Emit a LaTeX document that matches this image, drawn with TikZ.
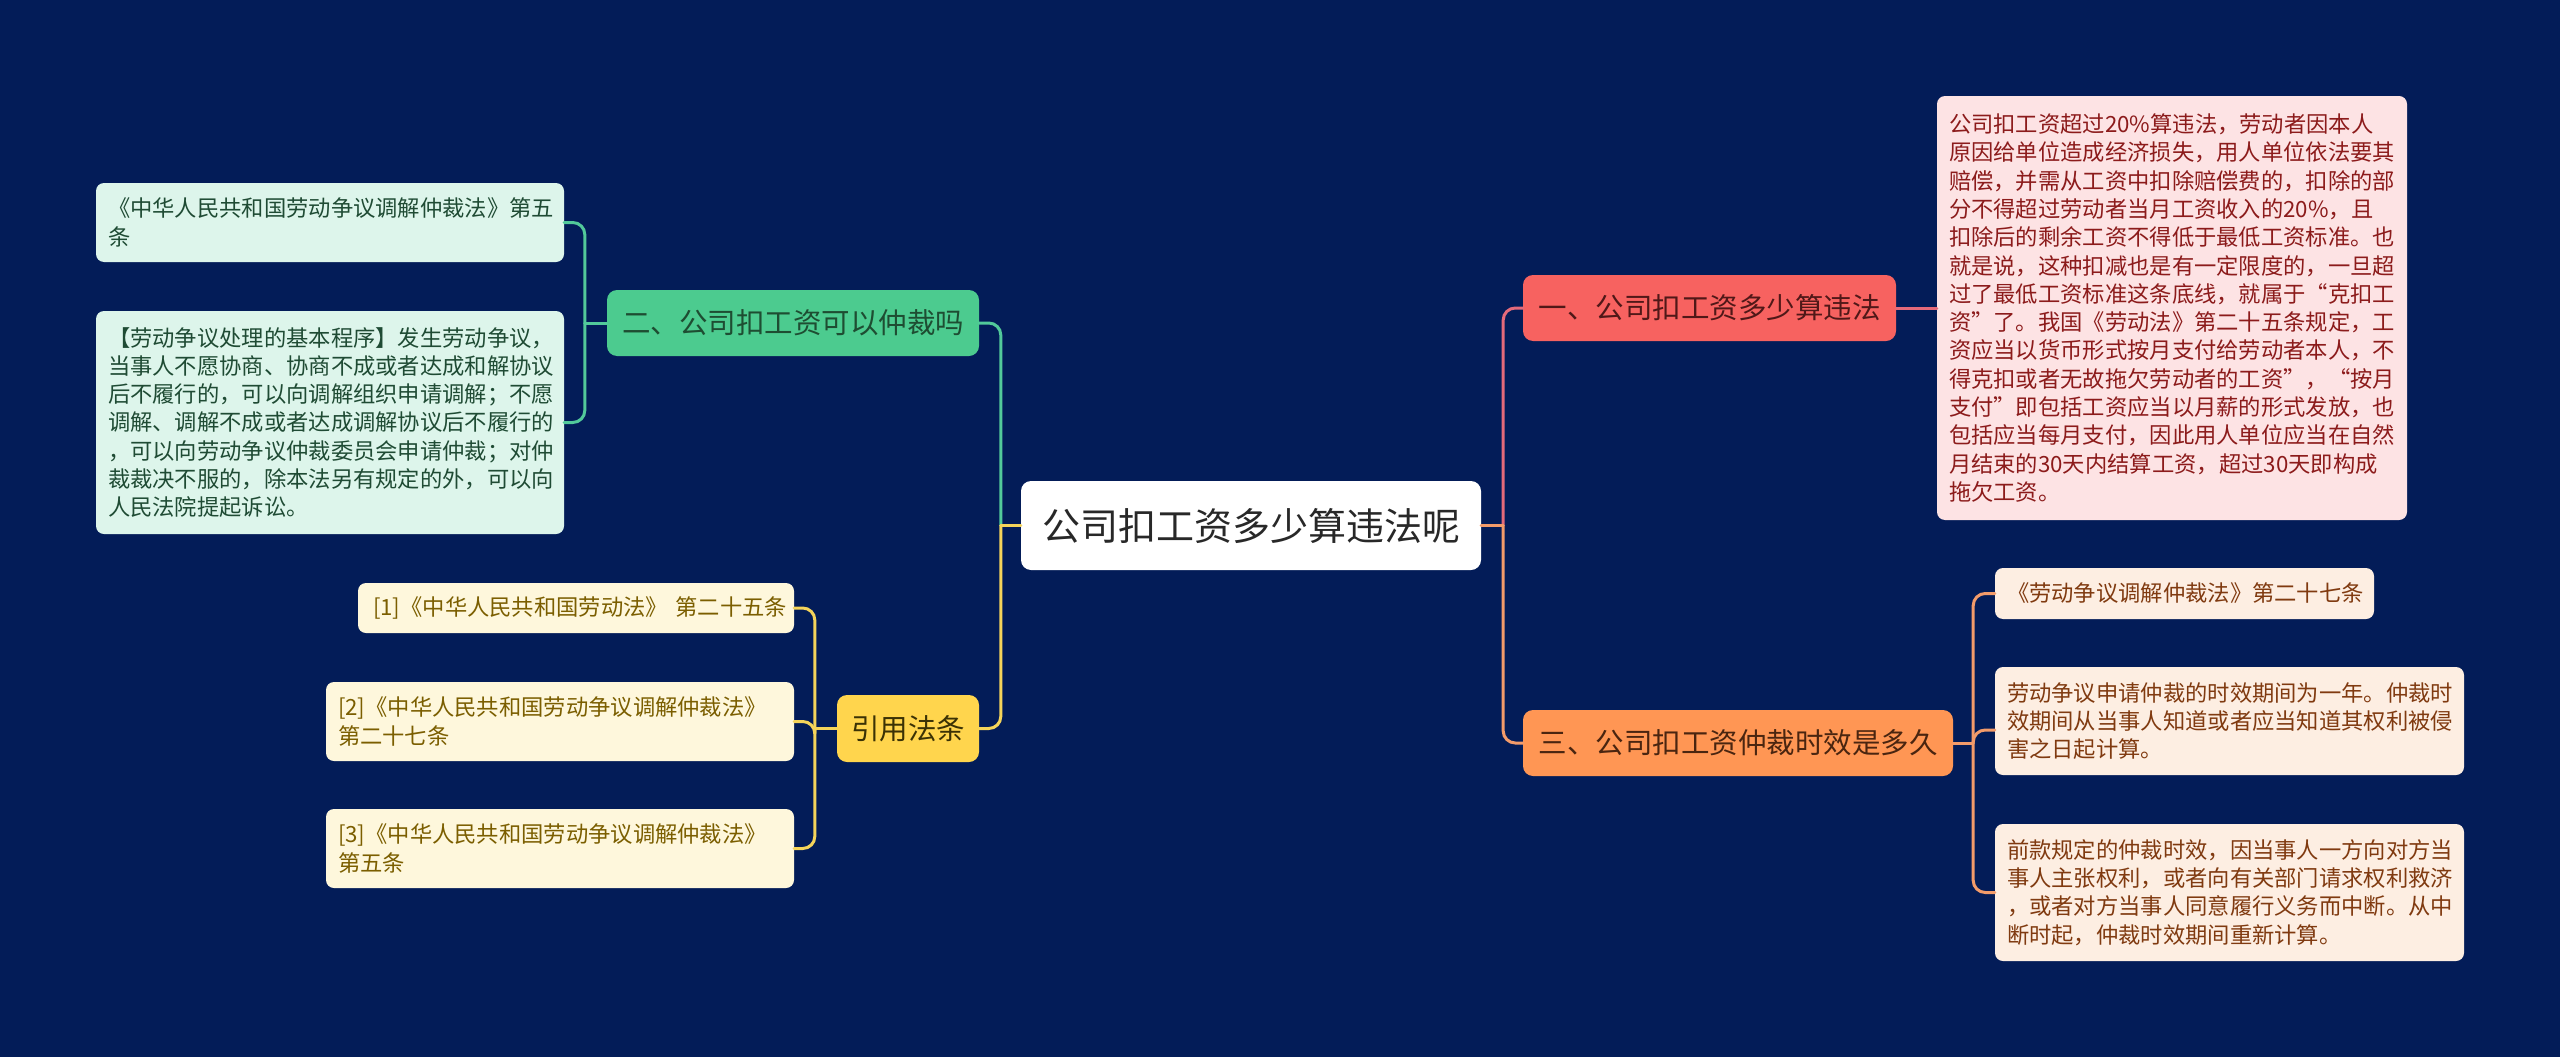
\documentclass[tikz,border=0pt]{standalone}
\usepackage{fontspec}
\setmainfont{Noto Sans CJK SC}
\definecolor{bgc}{RGB}{3,28,88}
\definecolor{rootfill}{RGB}{255,255,255}
\definecolor{roottext}{RGB}{40,40,40}
\definecolor{redfill}{RGB}{247,98,96}
\definecolor{redtext}{RGB}{80,24,24}
\definecolor{redleaf}{RGB}{253,227,228}
\definecolor{redleaftext}{RGB}{140,27,27}
\definecolor{redline}{RGB}{228,106,122}
\definecolor{orfill}{RGB}{255,150,84}
\definecolor{ortext}{RGB}{74,37,16}
\definecolor{orleaf}{RGB}{253,238,226}
\definecolor{orleaftext}{RGB}{128,58,16}
\definecolor{orline}{RGB}{243,155,106}
\definecolor{grfill}{RGB}{76,203,143}
\definecolor{grtext}{RGB}{30,77,50}
\definecolor{grleaf}{RGB}{221,245,235}
\definecolor{grleaftext}{RGB}{31,75,52}
\definecolor{grline}{RGB}{82,201,154}
\definecolor{yefill}{RGB}{255,213,77}
\definecolor{yetext}{RGB}{59,50,5}
\definecolor{yeleaf}{RGB}{254,247,220}
\definecolor{yeleaftext}{RGB}{123,94,0}
\definecolor{yeline}{RGB}{245,212,90}
\begin{document}
\begin{tikzpicture}[x=1pt,y=-1pt,
  rootbox/.style={fill=rootfill,text=roottext,rounded corners=10pt,inner sep=0pt,
    minimum width=460pt,minimum height=89pt,font=\fontsize{38}{44}\selectfont},
  lvlone/.style={rounded corners=10pt,inner sep=0pt,minimum height=66pt,
    font=\fontsize{28.5}{34}\selectfont},
  leafbox/.style={rounded corners=8pt,inner xsep=12pt,inner ysep=0pt,align=left,
    font=\fontsize{22.3}{28.3}\selectfont},
  conn/.style={line width=3pt,line cap=round},
  roundbend/.style={rounded corners=12pt}]
\useasboundingbox[fill=bgc] (0,0) rectangle (2560,1057);

% root
\node[rootbox] (root) at (1251,525.5) {公司扣工资多少算违法呢};

% level one
\node[lvlone,fill=redfill,text=redtext,minimum width=373pt] (b1) at (1709.5,308) {一、公司扣工资多少算违法};
\node[lvlone,fill=orfill,text=ortext,minimum width=430pt] (b3) at (1738,743) {三、公司扣工资仲裁时效是多久};
\node[lvlone,fill=grfill,text=grtext,minimum width=372pt] (b2) at (793,323) {二、公司扣工资可以仲裁吗};
\node[lvlone,fill=yefill,text=yetext,minimum width=142pt,minimum height=67pt] (b4) at (908,728.5) {引用法条};

% leaves right
\node[leafbox,fill=redleaf,text=redleaftext,text width=446pt,minimum height=424pt] (r1) at (2172,308) {公司扣工资超过20\%算违法，劳动者因本人\\
原因给单位造成经济损失，用人单位依法要其\\
赔偿，并需从工资中扣除赔偿费的，扣除的部\\
分不得超过劳动者当月工资收入的20\%，且\\
扣除后的剩余工资不得低于最低工资标准。也\\
就是说，这种扣减也是有一定限度的，一旦超\\
过了最低工资标准这条底线，就属于“克扣工\\
资”了。我国《劳动法》第二十五条规定，工\\
资应当以货币形式按月支付给劳动者本人，不\\
得克扣或者无故拖欠劳动者的工资”，“按月\\
支付”即包括工资应当以月薪的形式发放，也\\
包括应当每月支付，因此用人单位应当在自然\\
月结束的30天内结算工资，超过30天即构成\\
拖欠工资。};

\node[leafbox,fill=orleaf,text=orleaftext,text width=355pt,minimum height=51pt] (r3a) at (2184.5,593.5) {《劳动争议调解仲裁法》第二十七条};
\node[leafbox,fill=orleaf,text=orleaftext,text width=445pt,minimum height=108pt] (r3b) at (2229.5,721) {劳动争议申请仲裁的时效期间为一年。仲裁时\\
效期间从当事人知道或者应当知道其权利被侵\\
害之日起计算。};
\node[leafbox,fill=orleaf,text=orleaftext,text width=445pt,minimum height=137pt] (r3c) at (2229.5,892.5) {前款规定的仲裁时效，因当事人一方向对方当\\
事人主张权利，或者向有关部门请求权利救济\\
，或者对方当事人同意履行义务而中断。从中\\
断时起，仲裁时效期间重新计算。};

% leaves left
\node[leafbox,fill=grleaf,text=grleaftext,text width=444pt,minimum height=79pt] (l1) at (330,222.5) {《中华人民共和国劳动争议调解仲裁法》第五\\
条};
\node[leafbox,fill=grleaf,text=grleaftext,text width=444pt,minimum height=223pt] (l2) at (330,422.5) {【劳动争议处理的基本程序】发生劳动争议，\\
当事人不愿协商、协商不成或者达成和解协议\\
后不履行的，可以向调解组织申请调解；不愿\\
调解、调解不成或者达成调解协议后不履行的\\
，可以向劳动争议仲裁委员会申请仲裁；对仲\\
裁裁决不服的，除本法另有规定的外，可以向\\
人民法院提起诉讼。};

\node[leafbox,fill=yeleaf,text=yeleaftext,text width=422pt,inner xsep=7pt,align=right,minimum height=50pt] (c1) at (576,608) {[1]《中华人民共和国劳动法》~第二十五条};
\node[leafbox,fill=yeleaf,text=yeleaftext,text width=444pt,minimum height=79pt] (c2) at (560,721.5) {[2]《中华人民共和国劳动争议调解仲裁法》\\
第二十七条};
\node[leafbox,fill=yeleaf,text=yeleaftext,text width=444pt,minimum height=79pt] (c3) at (560,848.5) {[3]《中华人民共和国劳动争议调解仲裁法》\\
第五条};

% junction coordinates
\coordinate (JR) at ([xshift=22pt]root.east);
\coordinate (JL) at ([xshift=-20pt]root.west);
\coordinate (J3) at ([xshift=20pt]b3.east);
\coordinate (J2) at ([xshift=-22pt]b2.west);
\coordinate (J4) at ([xshift=-22pt]b4.west);

% root connectors
\draw[conn,redline,roundbend] (JR) |- (b1.west);
\draw[conn,orline] (root.east) -- (JR);
\draw[conn,orline,roundbend] (JR) |- (b3.west);
\draw[conn,grline,roundbend] (JL) |- (b2.east);
\draw[conn,yeline] (root.west) -- (JL);
\draw[conn,yeline,roundbend] (JL) |- (b4.east);

% branch one
\draw[conn,redline] (b1.east) -- (r1.west |- b1.east);

% branch three
\draw[conn,orline] (b3.east) -- (J3);
\draw[conn,orline,roundbend] (J3) |- (r3a.west);
\draw[conn,orline,roundbend] (J3) |- ([yshift=-9pt]r3b.west);
\draw[conn,orline,roundbend] (J3) |- (r3c.west);

% branch two
\draw[conn,grline] (b2.west) -- (J2);
\draw[conn,grline,roundbend] (J2) |- (l1.east);
\draw[conn,grline,roundbend] (J2) |- (l2.east);

% citations
\draw[conn,yeline] (b4.west) -- (J4);
\draw[conn,yeline,roundbend] (J4) |- (c1.east);
\draw[conn,yeline,roundbend] (J4) |- (c2.east);
\draw[conn,yeline,roundbend] (J4) |- (c3.east);
\end{tikzpicture}
\end{document}
